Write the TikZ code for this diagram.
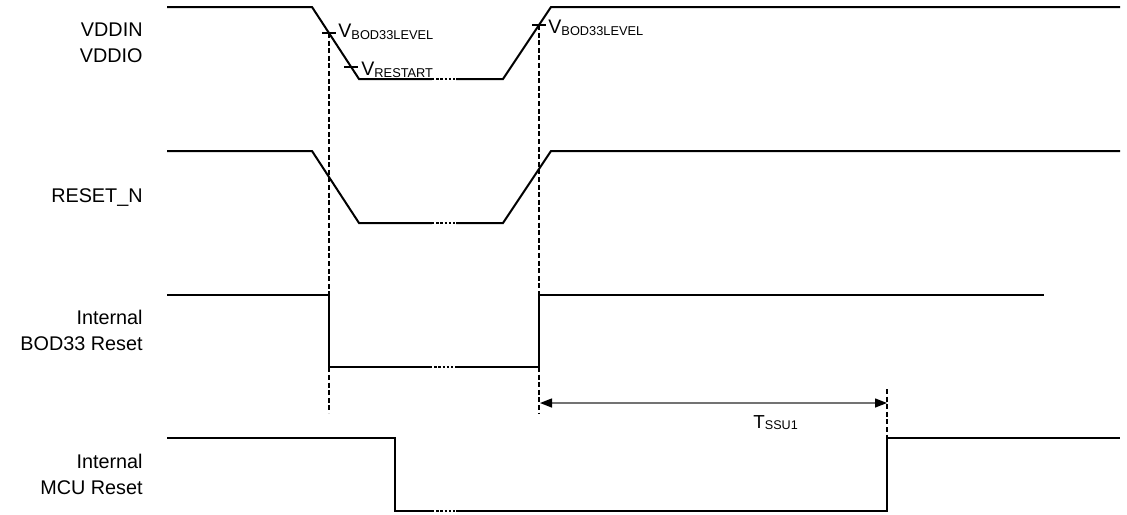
\documentclass[tikz,border=0pt]{standalone}
\usepackage{fontspec}
\setmainfont{Liberation Sans}
\usetikzlibrary{arrows.meta}
\newcommand{\lvsub}[1]{\raisebox{-1.3pt}{\fontsize{6.4}{7}\selectfont #1}}
\newcommand{\tsub}[1]{\raisebox{-0.5pt}{\fontsize{6.3}{7}\selectfont #1}}
\begin{document}
\begin{tikzpicture}[x=0.5pt,y=-0.5pt,
  sig/.style={line width=1pt, line join=miter},
  gap/.style={line width=1.3pt, dash pattern=on 1.2pt off 0.9pt},
  guide/.style={line width=0.7pt, dash pattern=on 2.5pt off 1.3pt},
  tick/.style={line width=0.6pt},
  lbl/.style={font=\fontsize{9.9}{13}\selectfont, align=right, anchor=north east, inner sep=0pt},
  lev/.style={font=\fontsize{9.8}{12}\selectfont, anchor=base west, inner sep=0pt},
  dim/.style={line width=0.7pt, draw=black!55, {Triangle[length=6pt,width=4.5pt,color=black]}-{Triangle[length=6pt,width=4.5pt,color=black]}}
  ]
\useasboundingbox (0,0) rectangle (1127,514);

% signal labels
\node[lbl] (lvdd) at (143,22) {VDDIN\\VDDIO};
\node[lbl] (lrst) at (143,188) {RESET\_N};
\node[lbl] (lbod) at (143,310) {Internal\\BOD33 Reset};
\node[lbl] (lmcu) at (143,454) {Internal\\MCU Reset};

% VDDIN / VDDIO
\draw[sig] (167,7) -- (312,7) -- (359,79) -- (432,79);
\draw[gap] (432,79) -- (456,79);
\draw[sig] (456,79) -- (503,79) -- (551,7) -- (1120,7);

% RESET_N
\draw[sig] (167,151) -- (312,151) -- (359,223) -- (432,223);
\draw[gap] (432,223) -- (456,223);
\draw[sig] (456,223) -- (503,223) -- (551,151) -- (1120,151);

% Internal BOD33 Reset
\draw[sig] (167,295) -- (329,295) -- (329,367) -- (430,367);
\draw[gap] (430,367) -- (457,367);
\draw[sig] (457,367) -- (539,367) -- (539,295) -- (1044,295);

% Internal MCU Reset
\draw[sig] (167,438) -- (395,438) -- (395,511) -- (432,511);
\draw[gap] (432,511) -- (456,511);
\draw[sig] (456,511) -- (887,511) -- (887,438) -- (1120,438);

% guide lines
\coordinate (g1t) at (329,33);
\coordinate (g1b) at (329,413);
\coordinate (g2t) at (539,25);
\coordinate (g2b) at (539,413);
\coordinate (g3t) at (887,389);
\coordinate (g3b) at (887,438);
\draw[guide] (g1t) -- (g1b);
\draw[guide] (g2t) -- (g2b);
\draw[guide] (g3t) -- (g3b);

% level ticks
\draw[tick] (322,33) -- (336,33);
\draw[tick] (344,67) -- (358,67);
\draw[tick] (532,25) -- (546,25);

\node[lev] (vb1) at (338,37) {V\lvsub{BOD33LEVEL}};
\node[lev] (vrs) at (361,75) {V\lvsub{RESTART}};
\node[lev] (vb2) at (548,33) {V\lvsub{BOD33LEVEL}};

% TSSU1
\coordinate (a1) at (540,403);
\coordinate (a2) at (887,403);
\draw[dim] (a1) -- (a2);
\node[lev, font=\fontsize{9.4}{11}\selectfont] (tssu) at (753,428) {T\tsub{SSU1}};
\end{tikzpicture}
\end{document}
